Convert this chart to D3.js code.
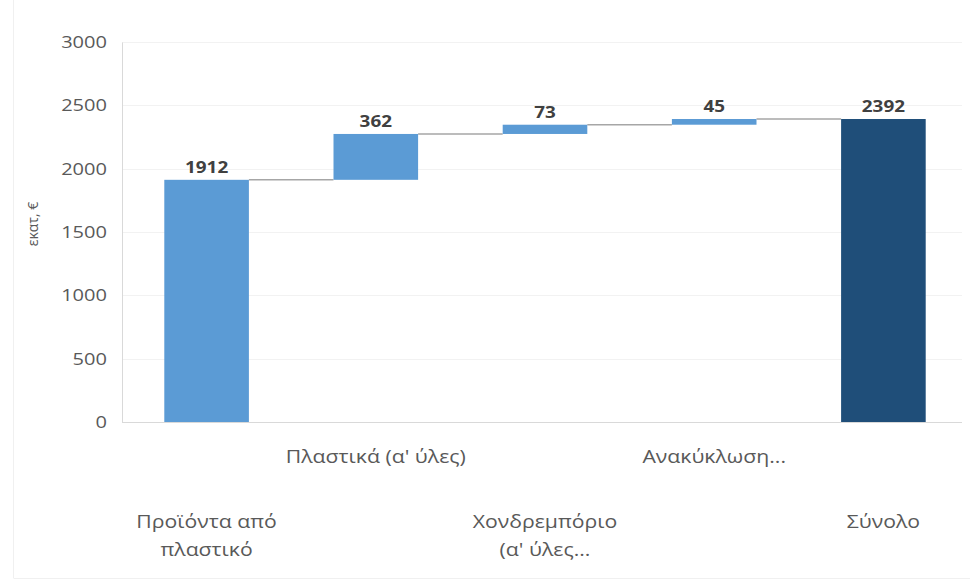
<!DOCTYPE html>
<html>
<head>
<meta charset="utf-8">
<script src="https://cdn.jsdelivr.net/npm/d3@7"></script>
<style>
  html, body { margin: 0; padding: 0; background: #fff; }
  svg { display: block; font-family: "Open Sans", "Noto Sans", sans-serif; }
</style>
</head>
<body>
<svg id="chart" width="970" height="581"></svg>
<script>
// Waterfall: contributions to the total (million €)
const categories = [
  ["Προϊόντα από", "πλαστικό"],
  ["Πλαστικά (α' ύλες)"],
  ["Χονδρεμπόριο", "(α' ύλες..."],
  ["Ανακύκλωση..."],
  ["Σύνολο"]
];
const values = [1912, 362, 73, 45, 2392];
const isTotal = [false, false, false, false, true];
const yTicks = [0, 500, 1000, 1500, 2000, 2500, 3000];
const yTitle = "εκατ, €";

const svg = d3.select("#chart");
const W = 970, H = 581;
const margin = { left: 122, right: 2, top: 42, bottom: 159 };
const plotW = W - margin.left - margin.right;
const plotH = H - margin.top - margin.bottom;
const stretch = 1.18; // horizontal widening of the lettering

// faint outer frame
svg.append("line").attr("x1", 13.5).attr("x2", 13.5).attr("y1", 0).attr("y2", 578)
  .attr("stroke", "#f0f0f0");
svg.append("line").attr("x1", 13.5).attr("x2", W).attr("y1", 578.5).attr("y2", 578.5)
  .attr("stroke", "#f0f0f0");

const g = svg.append("g").attr("transform", `translate(${margin.left},${margin.top})`);

const x = d3.scaleBand().domain(d3.range(categories.length)).range([0, plotW])
  .paddingInner(0.5).paddingOuter(0.25);
const y = d3.scaleLinear().domain([0, 3000]).range([plotH, 0]);

// gridlines
g.selectAll("line.grid").data(yTicks.filter(t => t > 0)).join("line")
  .attr("class", "grid")
  .attr("x1", 0).attr("x2", plotW - 6)
  .attr("y1", d => Math.round(y(d)) + 0.5).attr("y2", d => Math.round(y(d)) + 0.5)
  .attr("stroke", "#f2f2f2");

// y axis
const yAxis = g.append("g").call(
  d3.axisLeft(y).tickValues(yTicks).tickFormat(d3.format("d")).tickSize(0).tickPadding(15));
yAxis.select(".domain").attr("stroke", "#d9d9d9");
yAxis.selectAll(".tick text")
  .attr("fill", "#595959").style("font-size", "17px")
  .style("font-family", "'Open Sans', sans-serif")
  .attr("x", 0)
  .attr("transform", `translate(-15,0) scale(${stretch},1)`);

// x baseline
g.append("line").attr("x1", 0).attr("x2", plotW - 6)
  .attr("y1", plotH + 0.5).attr("y2", plotH + 0.5).attr("stroke", "#d9d9d9");

// y title
svg.append("text")
  .attr("transform", `translate(38,${margin.top + plotH / 2 - 8}) rotate(-90)`)
  .attr("text-anchor", "middle")
  .attr("fill", "#595959").style("font-size", "14px")
  .text(yTitle);

// waterfall segments
let running = 0;
const segs = values.map((v, i) => {
  let lo, hi;
  if (isTotal[i]) { lo = 0; hi = v; running = v; }
  else { lo = running; hi = running + v; running = hi; }
  return { i, v, lo, hi, total: isTotal[i] };
});

// connectors
g.selectAll("line.conn").data(segs.slice(0, -1)).join("line")
  .attr("class", "conn")
  .attr("x1", d => x(d.i) + x.bandwidth())
  .attr("x2", d => x(d.i + 1))
  .attr("y1", d => y(d.hi)).attr("y2", d => y(d.hi))
  .attr("stroke", "#a6a6a6").attr("stroke-width", 1.5);

// bars
g.selectAll("rect.bar").data(segs).join("rect")
  .attr("class", "bar")
  .attr("x", d => x(d.i))
  .attr("width", x.bandwidth())
  .attr("y", d => y(d.hi))
  .attr("height", d => y(d.lo) - y(d.hi))
  .attr("fill", d => d.total ? "#1f4e79" : "#5b9bd5");

// value labels
g.selectAll("text.val").data(segs).join("text")
  .attr("class", "val")
  .attr("transform", d => `translate(${x(d.i) + x.bandwidth() / 2},${y(d.hi) - 7}) scale(${stretch},1)`)
  .attr("text-anchor", "middle")
  .attr("fill", "#404040")
  .style("font-size", "16px").style("font-weight", "bold")
  .text(d => d.v);

// staggered category labels
const labG = svg.append("g");
categories.forEach((lines, i) => {
  const cx = margin.left + x(i) + x.bandwidth() / 2;
  const baseY = i % 2 === 1 ? 463 : 528;
  const t = labG.append("text")
    .attr("transform", `translate(${cx},0) scale(${stretch},1)`)
    .attr("text-anchor", "middle")
    .attr("fill", "#595959")
    .style("font-size", "18px");
  lines.forEach((ln, k) => {
    t.append("tspan").attr("x", 0).attr("y", baseY + k * 28).text(ln);
  });
});
</script>
</body>
</html>
